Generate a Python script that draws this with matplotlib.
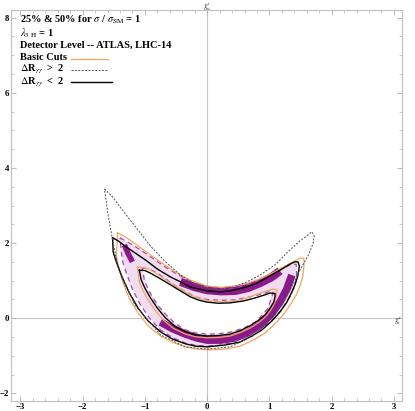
import matplotlib
matplotlib.use('Agg')
import matplotlib.pyplot as plt
from matplotlib.ticker import MultipleLocator

# 轮廓数据 (g_t^t, g_t^u)
# ΔR > 2 (灰色虚线)
dash_x = [-1.65, -1.52, -1.40, -1.16, -0.91, -0.67, -0.43, -0.19, 0, 0.21, 0.42, 0.64, 0.85, 1.09,
          1.28, 1.49, 1.60, 1.68, 1.72, 1.70, 1.62, 1.49, 1.33, 1.09, 0.77, 0.37, 0, -0.35, -0.75,
          -1.16, -1.43, -1.52, -1.60, -1.65]
dash_y = [3.44, 3.23, 2.96, 2.45, 1.92, 1.50, 1.15, 0.91, 0.81, 0.78, 0.83, 0.97, 1.15, 1.42,
          1.74, 2.06, 2.19, 2.30, 2.19, 1.98, 1.66, 1.28, 0.75, 0.09, -0.44, -0.76, -0.82, -0.76, -0.44,
          0.35, 1.34, 2.08, 2.83, 3.44]

# ΔR < 2 (黑线) 外圈 / 内圈
black_out_x = [-1.52, -1.43, -1.32, -1.16, -0.99, -0.80, -0.59, -0.43, -0.27, 0, 0.21, 0.37, 0.58,
               0.77, 0.98, 1.17, 1.33, 1.41, 1.46, 1.48, 1.46, 1.41, 1.36, 1.28, 1.17, 1.04, 0.88,
               0.72, 0.53, 0.29, 0, -0.19, -0.35, -0.56, -0.75, -0.95, -1.11, -1.25, -1.36, -1.46,
               -1.51, -1.52]
black_out_y = [2.14, 2.06, 1.92, 1.74, 1.55, 1.31, 1.10, 0.97, 0.83, 0.73, 0.70, 0.73, 0.81,
               0.91, 1.10, 1.28, 1.44, 1.50, 1.50, 1.39, 1.15, 0.89, 0.70, 0.43, 0.17, -0.07, -0.31,
               -0.47, -0.63, -0.71, -0.76, -0.74, -0.68, -0.55, -0.36, -0.07, 0.27, 0.67, 1.07, 1.50,
               1.76, 2.14]
black_in_x = [-1.09, -1.00, -0.91, -0.75, -0.59, -0.43, -0.27, -0.13, 0, 0.18, 0.37, 0.58, 0.77,
              0.92, 1.01, 1.09, 1.09, 1.07, 1.01, 0.93, 0.82, 0.69, 0.53, 0.37, 0.18, 0, -0.19,
              -0.35, -0.51, -0.67, -0.80, -0.91, -1.00, -1.06, -1.09]
black_in_y = [1.28, 1.27, 1.20, 1.05, 0.89, 0.73, 0.57, 0.48, 0.43, 0.40, 0.41, 0.46, 0.54,
              0.62, 0.67, 0.66, 0.58, 0.43, 0.27, 0.09, -0.06, -0.20, -0.33, -0.42, -0.46, -0.47, -0.44,
              -0.36, -0.22, 0.01, 0.27, 0.54, 0.80, 1.02, 1.28]

# Basic Cuts (橙线) 外圈 / 内圈
orange_out_x = [-1.44, -1.34, -1.24, -1.08, -0.91, -0.71, -0.51, -0.27, 0, 0.22, 0.45, 0.66, 0.85,
                1.05, 1.25, 1.40, 1.49, 1.55, 1.56, 1.54, 1.50, 1.43, 1.33, 1.22, 1.08, 0.93, 0.74,
                0.53, 0.29, 0.05, -0.16, -0.35, -0.56, -0.75, -0.95, -1.11, -1.25, -1.35, -1.42,
                -1.46, -1.44]
orange_out_y = [2.27, 2.19, 2.08, 1.89, 1.68, 1.45, 1.23, 1.01, 0.86, 0.82, 0.86, 0.94, 1.05,
                1.21, 1.39, 1.52, 1.60, 1.60, 1.50, 1.15, 0.90, 0.62, 0.35, 0.09, -0.16, -0.39, -0.58,
                -0.74, -0.82, -0.84, -0.82, -0.76, -0.64, -0.47, -0.20, 0.14, 0.52, 0.94, 1.32,
                1.68, 2.27]
orange_in_x = [-1.12, -1.02, -0.91, -0.75, -0.59, -0.43, -0.27, -0.11, 0.05, 0.25, 0.45, 0.62, 0.77,
               0.93, 1.06, 1.12, 1.12, 1.09, 1.03, 0.95, 0.83, 0.69, 0.53, 0.37, 0.18, 0, -0.19,
               -0.35, -0.54, -0.71, -0.84, -0.95, -1.03, -1.09, -1.12]
orange_in_y = [1.36, 1.35, 1.28, 1.12, 0.94, 0.78, 0.62, 0.52, 0.46, 0.44, 0.46, 0.53, 0.62,
               0.71, 0.78, 0.76, 0.70, 0.43, 0.24, 0.06, -0.11, -0.26, -0.38, -0.47, -0.51, -0.52, -0.49,
               -0.42, -0.27, -0.04, 0.22, 0.49, 0.73, 0.97, 1.36]

# 50% 区域 (浅紫) 外圈 / 内圈
p50_out_x = [-1.40, -1.25, -1.07, -0.87, -0.67, -0.47, -0.27, 0, 0.22, 0.45, 0.70, 0.93, 1.13, 1.33,
             1.43, 1.44, 1.40, 1.33, 1.23, 1.11, 0.96, 0.79, 0.59, 0.37, 0.18, 0, -0.19, -0.35,
             -0.56, -0.75, -0.92, -1.07, -1.19, -1.28, -1.35, -1.38, -1.40]
p50_out_y = [2.14, 2.00, 1.82, 1.59, 1.36, 1.16, 0.99, 0.83, 0.79, 0.81, 0.92, 1.07, 1.25, 1.42,
             1.44, 1.07, 0.82, 0.57, 0.31, 0.06, -0.16, -0.36, -0.53, -0.66, -0.72, -0.74, -0.72, -0.66,
             -0.51, -0.31, -0.01, 0.35, 0.73, 1.12, 1.45, 1.76, 2.14]
p50_in_x = [-1.04, -0.94, -0.83, -0.67, -0.51, -0.35, -0.19, -0.07, 0.05, 0.25, 0.45, 0.64, 0.82,
            0.95, 1.04, 1.06, 1.04, 0.98, 0.88, 0.77, 0.60, 0.40, 0.19, 0, -0.19, -0.35, -0.51,
            -0.64, -0.77, -0.87, -0.95, -1.01, -1.04]
p50_in_y = [1.34, 1.31, 1.23, 1.05, 0.86, 0.71, 0.57, 0.52, 0.49, 0.48, 0.49, 0.55, 0.62,
            0.68, 0.73, 0.67, 0.59, 0.27, 0.08, -0.10, -0.25, -0.36, -0.41, -0.42, -0.39, -0.31, -0.14,
            0.06, 0.30, 0.54, 0.78, 1.02, 1.34]

# 25% 区域 (深紫带)
p25_up_x = [-0.43, -0.20, 0, 0.22, 0.45, 0.66, 0.85, 1.03, 1.17]
p25_up_y = [0.97, 0.83, 0.75, 0.72, 0.73, 0.81, 0.94, 1.09, 1.26]
p25_low_x = [-0.75, -0.55, -0.35, -0.17, 0, 0.22, 0.45, 0.66, 0.85, 1.02, 1.17, 1.28, 1.36]
p25_low_y = [-0.10, -0.28, -0.42, -0.52, -0.58, -0.58, -0.52, -0.38, -0.18, 0.10, 0.43, 0.78, 1.15]
p25_tip_x = [-1.33, -1.27, -1.20]
p25_tip_y = [1.95, 1.72, 1.50]

plt.rcParams['mathtext.fontset'] = 'stix'

fig = plt.figure(figsize=(4.15, 4.11), dpi=100)
ax = fig.add_axes([10.5 / 415, 10 / 411, 391.5 / 415, 391 / 411])
ax.set_xlim(-3.16, 3.13)
ax.set_ylim(-2.2, 8.2)

ax.axhline(0, color='#c8c8c8', lw=0.8, zorder=0)
ax.axvline(0, color='#c8c8c8', lw=0.8, zorder=0)

purple = '#8a1a8a'
lilac = '#f2dcf2'
ax.fill(p50_out_x, p50_out_y, color=lilac, lw=0, zorder=1)
ax.fill(p50_in_x, p50_in_y, color='white', lw=0, zorder=1)
ax.plot(p25_up_x, p25_up_y, color=purple, lw=6, solid_capstyle='butt', zorder=2)
ax.plot(p25_low_x, p25_low_y, color=purple, lw=5.5, solid_capstyle='butt', zorder=2)
ax.plot(p25_tip_x, p25_tip_y, color=purple, lw=4, solid_capstyle='butt', zorder=2)
ax.plot(p50_out_x, p50_out_y, color='#a848a8', lw=0.9, ls=(0, (4, 3)), zorder=3)
ax.plot(p50_in_x, p50_in_y, color='#a848a8', lw=0.9, ls=(0, (4, 3)), zorder=3)

ax.plot(orange_out_x, orange_out_y, color='#f4a460', lw=0.9, zorder=4)
ax.plot(orange_in_x, orange_in_y, color='#f4a460', lw=0.9, zorder=4)
ax.plot(black_out_x, black_out_y, color='black', lw=1.0, zorder=5)
ax.plot(black_in_x, black_in_y, color='black', lw=1.0, zorder=5)
ax.plot(dash_x, dash_y, color='#505050', lw=0.7, ls=(0, (2, 1.5)), zorder=5)

# 边框与刻度 (Mathematica 风格)
for s in ax.spines.values():
    s.set_color('#c0c0c0')
    s.set_linewidth(0.8)
ax.xaxis.set_major_locator(MultipleLocator(1))
ax.xaxis.set_minor_locator(MultipleLocator(0.2))
ax.yaxis.set_major_locator(MultipleLocator(2))
ax.yaxis.set_minor_locator(MultipleLocator(0.5))
ax.tick_params(which='both', direction='in', top=True, right=True, color='#b0b0b0')
ax.tick_params(which='major', length=3.5, width=0.6, labelsize=6.3, pad=1.2)
ax.tick_params(which='minor', length=2, width=0.5)
for lab in ax.get_xticklabels() + ax.get_yticklabels():
    lab.set_fontfamily('Liberation Serif')
    lab.set_fontweight('bold')

tf = dict(family='Liberation Serif', weight='bold', fontsize=7.5, transform=ax.transAxes,
          va='center', ha='left')
def ax_y(py):
    return (401 - py) / 391
def ax_x(px):
    return (px - 10.5) / 391.5
ax.text(ax_x(20), ax_y(20), r'25% & 50% for $\sigma$ / $\sigma_{\mathrm{SM}}$ = 1', **tf)
ax.text(ax_x(20), ax_y(33), r'$\lambda_{3\ \mathrm{H}}$ = 1', **tf)
ax.text(ax_x(20), ax_y(45), 'Detector Level -- ATLAS, LHC-14', **tf)
ax.text(ax_x(20), ax_y(57.5), 'Basic Cuts', **tf)
ax.text(ax_x(20), ax_y(69), r'$\Delta$R$_{\gamma\gamma}$  >  2', **tf)
ax.text(ax_x(20), ax_y(82), r'$\Delta$R$_{\gamma\gamma}$  <  2', **tf)
ax.plot([ax_x(71), ax_x(108)], [ax_y(59), ax_y(59)], color='#f4a460', lw=0.9, transform=ax.transAxes)
ax.plot([ax_x(71), ax_x(108)], [ax_y(70), ax_y(70)], color='#505050', lw=0.7, ls=(0, (2, 1.5)),
        transform=ax.transAxes)
ax.plot([ax_x(71), ax_x(112)], [ax_y(82), ax_y(82)], color='black', lw=1.0, transform=ax.transAxes)

# 坐标轴名称
fig.text(207 / 415, 1 - 6 / 411, r'$g^t_u$', fontsize=5.5, ha='center', va='center', color='#333333')
fig.text(398 / 415, 1 - 320 / 411, r'$g^t_t$', fontsize=5.5, ha='center', va='center', color='#333333')

fig.savefig('out.png', dpi=100)
